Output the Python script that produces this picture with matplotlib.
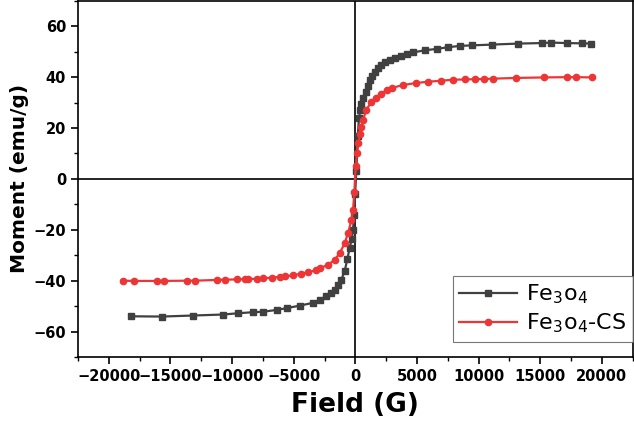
import matplotlib
matplotlib.use('Agg')
import matplotlib.pyplot as plt
from matplotlib.ticker import MultipleLocator

# M-H curves
fe3o4_field = [-18200, -15700, -13200, -10700, -9500, -8330, -7470, -6390, -5580, -4500,
               -3430, -2900, -2350, -2000, -1675, -1400, -1140, -870, -650, -460,
               -300, -190, -100, -20, 80, 200, 290, 400, 485, 650,
               833, 1000, 1160, 1350, 1560, 1800, 2100, 2400, 2775, 3200,
               3720, 4200, 4660, 5660, 6600, 7550, 8520, 9470, 11050, 13200,
               15100, 15900, 17150, 18370, 19090]
fe3o4_moment = [-54.0, -54.1, -53.7, -53.3, -52.8, -52.4, -52.2, -51.5, -50.8, -49.8,
                -48.7, -47.6, -46.1, -44.9, -43.5, -41.8, -39.6, -36.3, -31.5, -27.2,
                -23.5, -20.0, -14.0, -6.0, 3.3, 17.0, 23.8, 27.0, 29.3, 32.0,
                34.0, 36.6, 38.8, 40.6, 42.1, 43.5, 44.7, 45.8, 46.7, 47.7,
                48.4, 49.1, 49.7, 50.6, 51.1, 51.8, 52.3, 52.5, 52.8, 53.2,
                53.4, 53.6, 53.4, 53.3, 53.2]

cs_field = [-18880, -17940, -16100, -15510, -13670, -13000, -11200, -10550, -9630, -8960,
            -8700, -8010, -7470, -6800, -6120, -5720, -5050, -4370, -3830, -3160,
            -2890, -2220, -1675, -1270, -870, -600, -320, -190, -80, 25,
            130, 250, 350, 480, 615, 890, 1290, 1640, 2100, 2560, 2990, 3850,
            4930, 5870, 6960, 7900, 8900, 9710, 10400, 11130, 13070, 15320,
            17200, 17880, 19220]
cs_moment = [-40.0, -40.1, -40.1, -40.1, -40.0, -40.0, -39.7, -39.6, -39.5, -39.4,
             -39.4, -39.2, -39.1, -38.8, -38.5, -38.3, -37.9, -37.2, -36.7, -35.8,
             -35.1, -33.8, -31.8, -29.2, -25.3, -21.4, -16.2, -12.3, -5.0, 4.9,
             10.1, 14.0, 17.5, 20.5, 23.2, 27.1, 30.3, 32.0, 33.5, 35.1, 35.8, 36.9,
             37.7, 38.2, 38.6, 39.0, 39.1, 39.2, 39.3, 39.4, 39.7, 39.9,
             40.0, 40.0, 39.9]

plt.rcParams['font.family'] = 'DejaVu Sans'
plt.rcParams['mathtext.fontset'] = 'dejavusans'
plt.rcParams['mathtext.default'] = 'regular'

fig = plt.figure(figsize=(6.34, 4.25), dpi=100)
ax = fig.add_axes([0.123, 0.16, 0.875, 0.838])

ax.plot(fe3o4_field, fe3o4_moment, color='#404040', marker='s', markersize=4.3,
        linewidth=1.6, label='Fe$_3$o$_4$')
ax.plot(cs_field, cs_moment, color='#ee3535', marker='o', markersize=4.5,
        linewidth=1.6, label='Fe$_3$o$_4$-CS')

ax.axhline(0, color='black', linewidth=1.2, zorder=0)
ax.axvline(0, color='black', linewidth=1.2, zorder=0)

ax.set_xlim(-22500, 22500)
ax.set_ylim(-70, 70)
ax.xaxis.set_major_locator(MultipleLocator(5000))
ax.xaxis.set_minor_locator(MultipleLocator(2500))
ax.yaxis.set_major_locator(MultipleLocator(20))
ax.yaxis.set_minor_locator(MultipleLocator(10))
ax.tick_params(which='major', direction='out', length=5, width=1.2, labelsize=10.5)
ax.tick_params(which='minor', direction='out', length=3, width=1.0)
for lbl in ax.get_xticklabels() + ax.get_yticklabels():
    lbl.set_fontweight('bold')
for s in ax.spines.values():
    s.set_linewidth(1.2)

ax.set_xlabel('Field (G)', fontsize=19, fontweight='bold', labelpad=6)
ax.set_ylabel('Moment (emu/g)', fontsize=14.5, fontweight='bold', labelpad=3)

leg = ax.legend(loc='lower right', bbox_to_anchor=(1.0, 0.042), fontsize=16,
                frameon=True, fancybox=False, edgecolor='#555555',
                handlelength=2.6, borderpad=0.3, labelspacing=0.25,
                handletextpad=0.4, borderaxespad=0.0)
leg.get_frame().set_linewidth(0.8)

fig.savefig('out.png', dpi=100)
